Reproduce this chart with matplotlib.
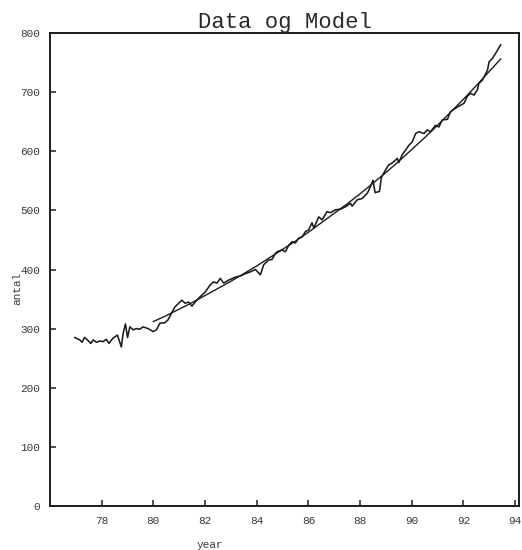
import numpy as np
import matplotlib.pyplot as plt

years = [76.96, 77.15, 77.24, 77.34, 77.47, 77.58, 77.67, 77.79, 77.93, 78.05,
         78.18, 78.28, 78.44, 78.61, 78.76, 78.83, 78.92, 79.00, 79.09, 79.22,
         79.34, 79.48, 79.60, 79.80, 79.99, 80.12, 80.25, 80.45, 80.57, 80.70,
         80.84, 81.10, 81.23, 81.36, 81.49, 81.62, 81.81, 82.01, 82.20, 82.33,
         82.46, 82.59, 82.72, 82.91, 83.17, 83.36, 83.56, 83.75, 83.95, 84.14,
         84.27, 84.46, 84.59, 84.72, 84.79, 84.98, 85.11, 85.24, 85.37, 85.50,
         85.62, 85.76, 85.88, 86.01, 86.14, 86.21, 86.40, 86.53, 86.72, 86.85,
         87.05, 87.24, 87.43, 87.63, 87.69, 87.89, 88.08, 88.28, 88.40, 88.50,
         88.58, 88.75, 88.82, 88.98, 89.11, 89.24, 89.37, 89.44, 89.50, 89.63,
         89.76, 89.89, 90.02, 90.15, 90.28, 90.47, 90.60, 90.73, 90.92, 91.05,
         91.18, 91.38, 91.50, 91.70, 91.89, 92.02, 92.15, 92.28, 92.41, 92.54,
         92.60, 92.73, 92.93, 92.99, 93.12, 93.25, 93.44]
antal = [285, 281, 277, 285, 280, 275, 281, 277, 279, 278,
         282, 275, 284, 289, 269, 292, 308, 285, 303, 298,
         300, 299, 303, 300, 295, 298, 309, 310, 315, 326,
         337, 348, 343, 345, 338, 345, 354, 362, 374, 379,
         377, 385, 377, 382, 387, 389, 393, 396, 400, 391,
         408, 416, 417, 427, 430, 433, 430, 441, 447, 445,
         453, 455, 464, 467, 479, 470, 489, 484, 498, 496,
         501, 502, 506, 512, 507, 518, 520, 529, 540, 551,
         530, 532, 555, 568, 577, 580, 585, 588, 581, 594,
         602, 610, 616, 630, 633, 630, 636, 633, 644, 641,
         653, 654, 667, 673, 678, 681, 693, 698, 695, 704,
         715, 720, 737, 751, 757, 766, 780]

# fitted model curve
model_years = [80, 80.5, 81, 81.5, 82, 82.5, 83, 83.5, 84, 84.5, 85, 85.5,
               86, 86.5, 87, 87.5, 88, 88.5, 89, 89.5, 90, 90.5, 91, 91.5,
               92, 92.5, 93, 93.44]
model_antal = [312, 322, 333, 344, 356, 368, 380, 393, 406, 420, 434, 448,
               463, 479, 495, 511, 528, 546, 564, 583, 603, 623, 644, 666,
               688, 711, 735, 756]

mono = 'Liberation Mono'
ink = '#1c1c1c'

fig = plt.figure(figsize=(5.22, 5.5), dpi=100)
ax = fig.add_axes([50 / 522, 1 - 506 / 550, 469 / 522, 473 / 550])

ax.plot(years, antal, color=ink, lw=1.15)
ax.plot(model_years, model_antal, color=ink, lw=1.0)

ax.set_xlim(76, 94.15)
ax.set_ylim(0, 800)
ax.set_xticks(np.arange(78, 95, 2))
ax.set_yticks(np.arange(0, 801, 100))
ax.tick_params(direction='in', length=4, width=1.1, pad=7, colors=ink,
               labelsize=8)
for lab in ax.get_xticklabels() + ax.get_yticklabels():
    lab.set_family(mono)
    lab.set_color('#3a3a3a')
for sp in ax.spines.values():
    sp.set_linewidth(1.4)
    sp.set_color(ink)

ax.set_title("Data og Model", family=mono, fontsize=16, pad=3, color='#2a2a2a')
ax.set_xlabel("year", family=mono, fontsize=8, color='#3a3a3a')
ax.set_ylabel("antal", family=mono, fontsize=8, color='#3a3a3a')
ax.xaxis.set_label_coords(0.341, -0.072)
ax.yaxis.set_label_coords(-0.06, 0.46)

plt.savefig("out.png", dpi=100)
